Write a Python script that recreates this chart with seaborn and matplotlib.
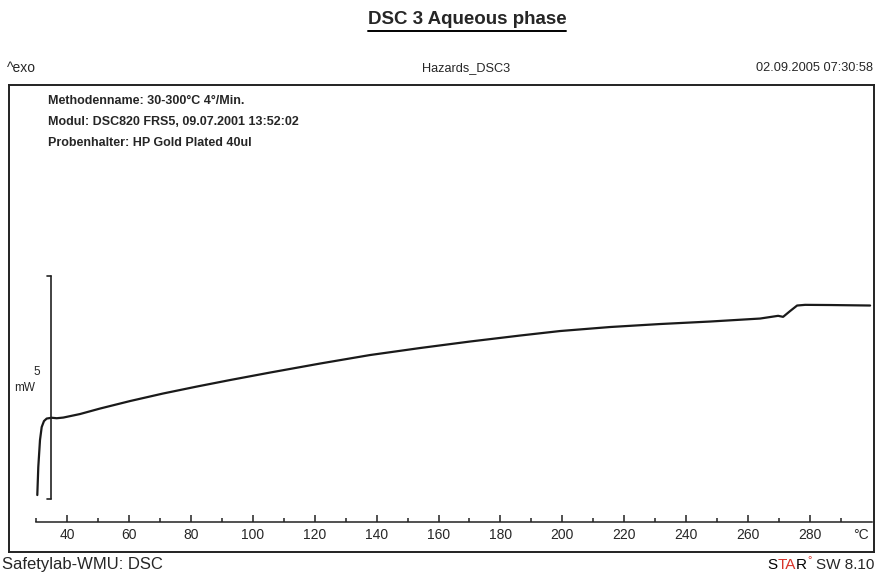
import matplotlib
matplotlib.use("Agg")
import matplotlib.pyplot as plt
import seaborn as sns
import pandas as pd

# DSC heating run, 30-300 °C at 4 °C/min
temperature_c = [30.42, 30.74, 31.29, 31.84, 32.58, 33.46, 35.07, 36.69, 38.82,
                 44.21, 50.67, 60.36, 71.02, 82.00, 92.66, 105.58, 121.73,
                 137.89, 154.04, 170.19, 186.34, 199.25, 215.41, 231.56,
                 247.71, 263.86, 269.68, 271.29, 273.55, 275.81, 278.39,
                 286.47, 299.39]
heat_flow_mw = [-1.233, -0.605, 0.000, 0.291, 0.426, 0.482, 0.500, 0.489, 0.504,
                0.583, 0.706, 0.874, 1.043, 1.200, 1.345, 1.513, 1.715,
                1.906, 2.063, 2.209, 2.343, 2.444, 2.534, 2.601,
                2.657, 2.724, 2.785, 2.762, 2.892, 3.016, 3.031,
                3.027, 3.016]

major_ticks = [40, 60, 80, 100, 120, 140, 160, 180, 200, 220, 240, 260, 280]
minor_ticks = [30, 50, 70, 90, 110, 130, 150, 170, 190, 210, 230, 250, 270, 290]
scale_bar_mw = [-1.32, 3.68]   # 5 mW scale bar

sns.set_style("white")
plt.rcParams["font.family"] = ["Liberation Sans", "DejaVu Sans"]

W, H = 876, 574
fig = plt.figure(figsize=(W / 100, H / 100), dpi=100)


def fx(x):
    return x / W


def fy(y):
    return 1 - y / H


# outer frame
frame = fig.add_axes([fx(9), fy(552), fx(874) - fx(9), fy(85) - fy(552)])
frame.set_xticks([])
frame.set_yticks([])
for s in frame.spines.values():
    s.set_visible(True)
    s.set_color("#222222")
    s.set_linewidth(1.4)
frame.patch.set_alpha(0)

# plotting axes
ax = fig.add_axes([fx(36), fy(552), fx(872) - fx(36), fy(85) - fy(552)])
ax.patch.set_alpha(0)
df = pd.DataFrame({"T": temperature_c, "HF": heat_flow_mw})
sns.lineplot(data=df, x="T", y="HF", ax=ax, color="#1a1a1a", linewidth=1.6,
             sort=False)
ax.set_xlim(30, 300)
ax.set_ylim(-2.51, 7.96)
ax.set_xlabel("")
ax.set_ylabel("")
for k in ["top", "left", "right"]:
    ax.spines[k].set_visible(False)
axis_pos = 30 / 467
ax.spines["bottom"].set_position(("axes", axis_pos))
ax.spines["bottom"].set_color("#222222")
ax.spines["bottom"].set_linewidth(1.1)
ax.set_yticks([])
ax.set_xticks(major_ticks)
ax.set_xticks(minor_ticks, minor=True)
ax.tick_params(axis="x", which="major", direction="in", length=5, width=1.1,
               color="#222222", labelsize=10, pad=4, bottom=True)
ax.tick_params(axis="x", which="minor", direction="in", length=3, width=1.1,
               color="#222222", bottom=True)
ax.text(296.5, axis_pos - 0.013, "°C", transform=ax.get_xaxis_transform(),
        ha="center", va="top", fontsize=10)

# scale bar
bar_x = 35.0
cap_x = 33.4
ax.plot([bar_x, bar_x], scale_bar_mw, color="#222222", lw=1.2, clip_on=False)
for yv in scale_bar_mw:
    ax.plot([cap_x, bar_x], [yv, yv], color="#222222", lw=1.2, clip_on=False)
fig.text(fx(37), fy(372), "5", ha="center", va="center", fontsize=8.5)
fig.text(fx(25), fy(388), "mW", ha="center", va="center", fontsize=8.5)

# header texts
t = fig.text(fx(467), fy(20), "DSC 3 Aqueous phase", ha="center", va="center",
             fontsize=13.5, fontweight="bold")
fig.canvas.draw()
bb = t.get_window_extent()
fig.add_artist(plt.Line2D([bb.x0 / W, bb.x1 / W],
                          [fy(30.5), fy(30.5)], color="black", lw=1.4))

fig.text(fx(7), fy(68), "^exo", ha="left", va="center", fontsize=10)
fig.text(fx(466), fy(68), "Hazards_DSC3", ha="center", va="center",
         fontsize=9.2)
fig.text(fx(873), fy(68), "02.09.2005 07:30:58", ha="right", va="center",
         fontsize=9.2)

info = ["Methodenname: 30-300°C 4°/Min.",
        "Modul: DSC820 FRS5, 09.07.2001 13:52:02",
        "Probenhalter: HP Gold Plated 40ul"]
for i, line in enumerate(info):
    fig.text(fx(48), fy(100.5 + 21.5 * i), line, ha="left", va="center",
             fontsize=9, fontweight="bold")

# footer texts
fig.text(fx(2), fy(565), "Safetylab-WMU: DSC", ha="left", va="center",
         fontsize=12)
red = "#d8342a"
tail = fig.text(fx(874), fy(565), "SW 8.10", ha="right", va="center",
                fontsize=11)
fig.canvas.draw()
r_right = tail.get_window_extent().x0 - 9
x_cur = r_right
for txt, col in [("R", "black"), ("TA", red), ("S", "black")]:
    tt = fig.text(x_cur / W, fy(565), txt, ha="right", va="center",
                  fontsize=11, color=col)
    fig.canvas.draw()
    x_cur = tt.get_window_extent().x0
fig.text((r_right + 0.5) / W, fy(560), "°", ha="left", va="center",
         fontsize=8, color=red)

fig.savefig("out.png", dpi=100)
